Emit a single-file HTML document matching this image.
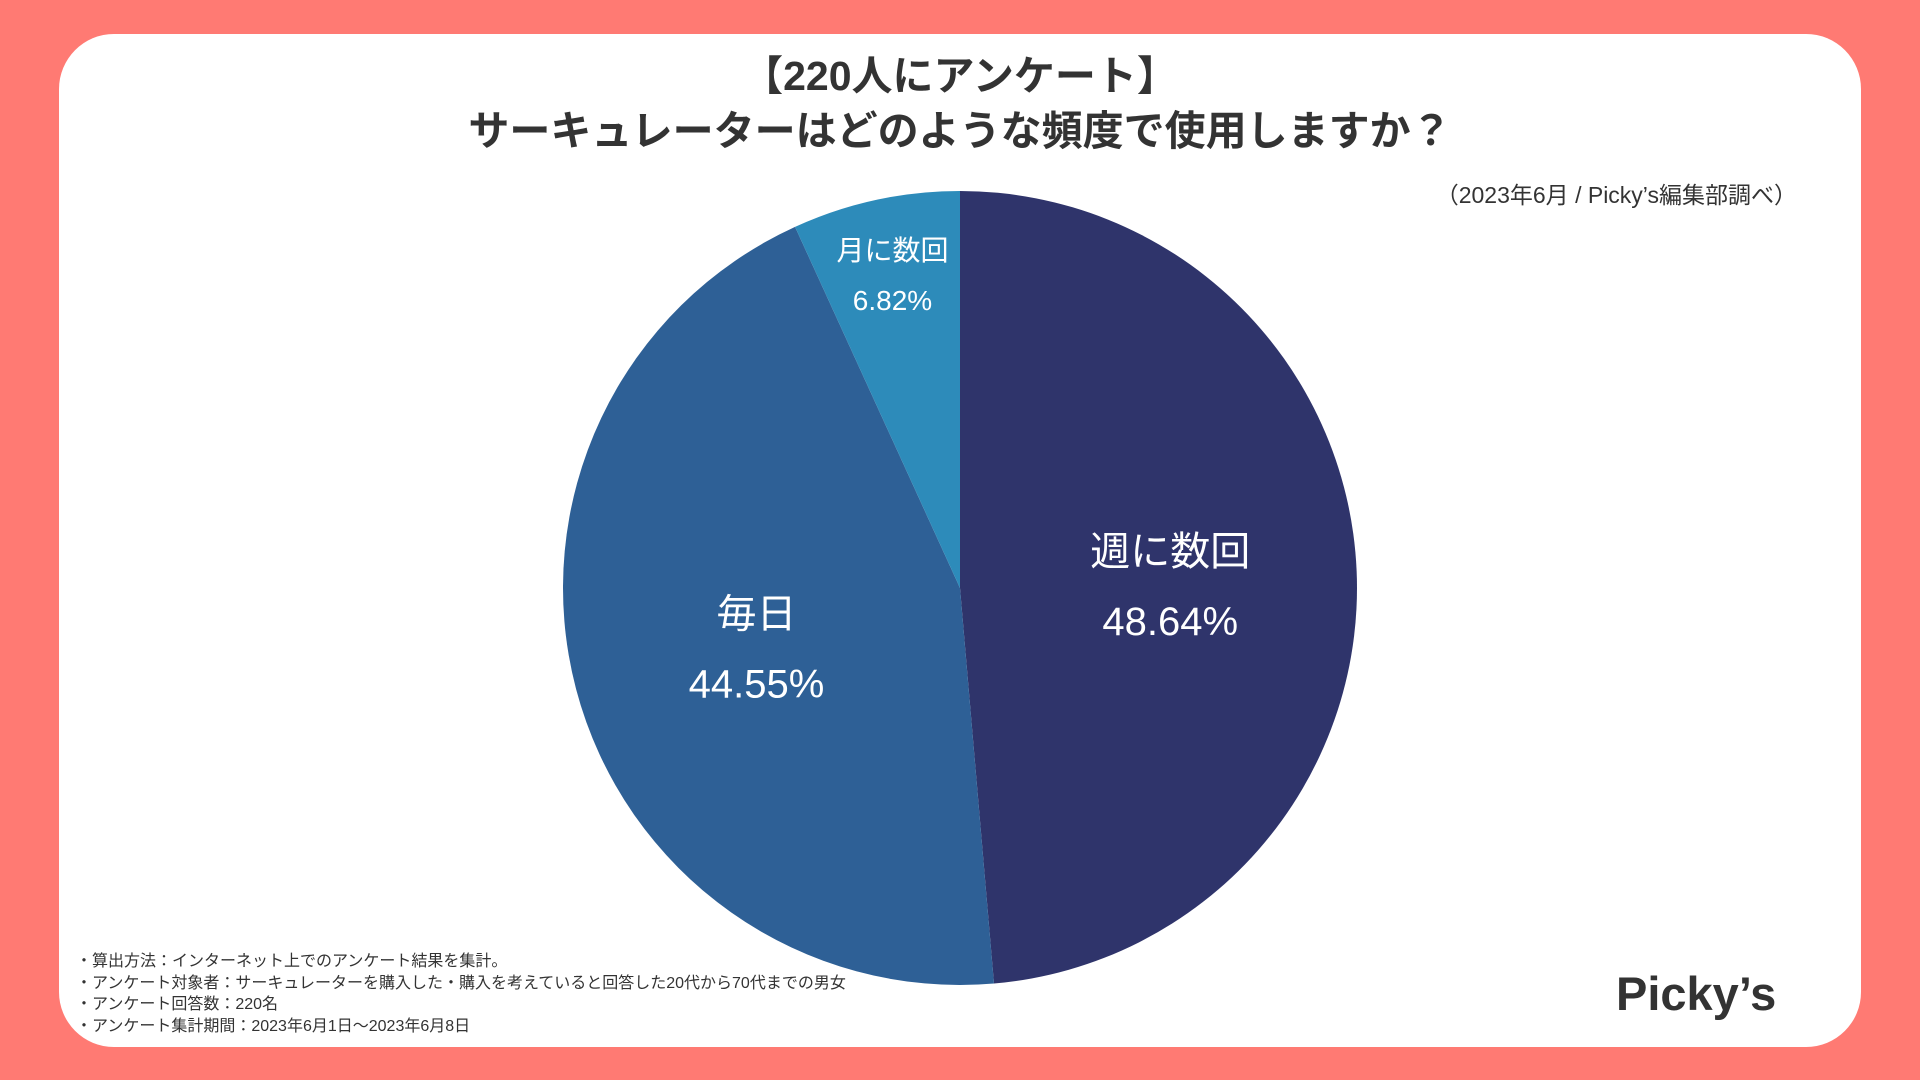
<!DOCTYPE html>
<html><head><meta charset="utf-8"><style>
html,body{margin:0;padding:0;width:1920px;height:1080px;overflow:hidden;background:#FF7A73;font-family:"Liberation Sans","Noto Sans CJK JP",sans-serif;}
.card{position:absolute;left:59px;top:34px;width:1802px;height:1013px;background:#fff;border-radius:55px;}
.t{position:absolute;left:0;width:1920px;text-align:center;color:#333;font-weight:bold;font-size:41px;line-height:1;}
.note{position:absolute;left:76px;font-size:16px;color:#333;line-height:1;}
</style></head><body>
<div class="card"></div>
<div class="t" style="top:56px">【220人にアンケート】</div>
<div class="t" style="top:111px">サーキュレーターはどのような頻度で使用しますか？</div>
<div style="position:absolute;right:123px;top:176px;font-size:23px;color:#333;">（2023年6月 / Picky’s編集部調べ）</div>
<svg id="pie" width="1920" height="1080" style="position:absolute;left:0;top:0"></svg>
<div class="note" style="top:954px">・算出方法：インターネット上でのアンケート結果を集計。</div>
<div class="note" style="top:976px">・アンケート対象者：サーキュレーターを購入した・購入を考えていると回答した20代から70代までの男女</div>
<div class="note" style="top:997px">・アンケート回答数：220名</div>
<div class="note" style="top:1019px">・アンケート集計期間：2023年6月1日〜2023年6月8日</div>
<div style="position:absolute;left:1616px;top:966px;font-size:47px;font-weight:bold;color:#333;">Picky’s</div>
<script>
const categories=["週に数回","毎日","月に数回"];
const values=[48.64,44.55,6.82];
const valueLabels=["48.64%","44.55%","6.82%"];
const colors=["#2F346B","#2E6096","#2D8BBA"];
const cx=960,cy=588,R=397;
const svg=document.getElementById('pie');
const NS="http://www.w3.org/2000/svg";
const total=values.reduce((a,b)=>a+b,0);
function pt(a,r){return [cx+r*Math.sin(a),cy-r*Math.cos(a)];}
let acc=0;
values.forEach((v,i)=>{
  const a0=acc/total*2*Math.PI; acc+=v; const a1=acc/total*2*Math.PI;
  const p0=pt(a0,R),p1=pt(a1,R);
  const path=document.createElementNS(NS,'path');
  path.setAttribute('d',`M${cx},${cy}L${p0[0]},${p0[1]}A${R},${R} 0 ${a1-a0>Math.PI?1:0} 1 ${p1[0]},${p1[1]}Z`);
  path.setAttribute('fill',colors[i]);
  
  
  svg.appendChild(path);
  const small=v/total<0.1;
  const am=(a0+a1)/2;
  const lp=pt(am,R*(small?0.8:0.53));
  const yc=lp[1]+(small?-2:8);
  const fs=small?28:40, gap=small?50:70;
  const t1=document.createElementNS(NS,'text');
  t1.setAttribute('x',lp[0]);t1.setAttribute('y',yc-gap/2);
  t1.setAttribute('text-anchor','middle');t1.setAttribute('dominant-baseline','central');
  t1.setAttribute('fill','#fff');t1.setAttribute('font-size',fs);
  t1.setAttribute('font-family','"Liberation Sans","Noto Sans CJK JP",sans-serif');
  t1.textContent=categories[i];
  
  
  svg.appendChild(t1);
  const t2=document.createElementNS(NS,'text');
  t2.setAttribute('x',lp[0]);t2.setAttribute('y',yc+gap/2);
  t2.setAttribute('text-anchor','middle');t2.setAttribute('dominant-baseline','central');
  t2.setAttribute('fill','#fff');t2.setAttribute('font-size',fs);
  t2.setAttribute('font-family','"Liberation Sans","Noto Sans CJK JP",sans-serif');
  t2.textContent=valueLabels[i];
  
  
  svg.appendChild(t2);
});
</script>
</body></html>
